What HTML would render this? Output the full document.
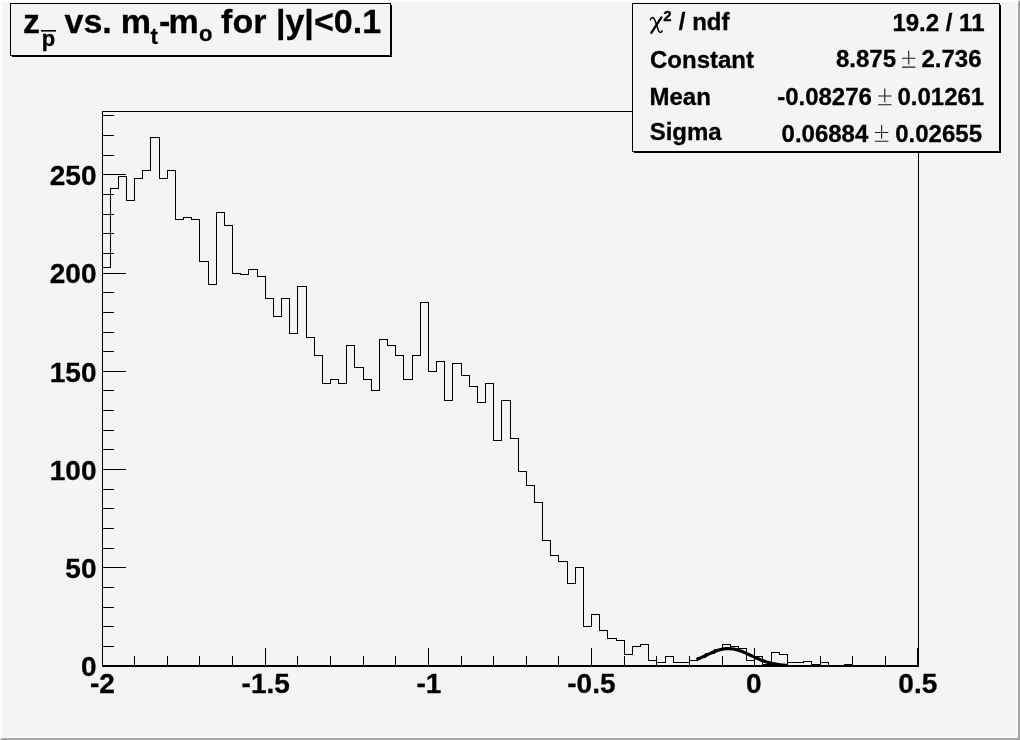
<!DOCTYPE html>
<html><head><meta charset="utf-8"><title>z pbar vs mt-mo</title>
<style>
html,body{margin:0;padding:0;background:#f4f4f4;}
body{width:1020px;height:740px;overflow:hidden;position:relative;font-family:"Liberation Sans",sans-serif;}
svg{will-change:transform;position:absolute;left:0;top:0;display:block}
text{font-family:"Liberation Sans",sans-serif;font-weight:bold;fill:#000;stroke:#000;stroke-width:0.3px}
</style></head><body>
<svg width="1020" height="740" viewBox="0 0 1020 740">
<rect x="0" y="0" width="1020" height="740" fill="#f4f4f4"/>
<!-- canvas bevel -->
<rect x="0" y="0" width="1020" height="2" fill="#fdfdfd"/>
<rect x="0" y="0" width="2" height="740" fill="#fdfdfd"/>
<rect x="2" y="737" width="1016" height="1" fill="#fcfcfc"/>
<rect x="1017" y="2" width="1" height="736" fill="#fcfcfc"/>
<path d="M1020 0V740H0L2 738H1018V2Z" fill="#a3a3a3"/>
<!-- frame -->
<g shape-rendering="crispEdges" stroke="#000" stroke-width="1" fill="none">
<path d="M102.5 666V111.5H918.5V666"/>
<path d="M102 665.5H919" />
<path d="M102 666.5H919" />
<g id="xt"><path d="M102.5 665V648"/>
<path d="M134.5 665V656"/>
<path d="M167.5 665V656"/>
<path d="M199.5 665V656"/>
<path d="M232.5 665V656"/>
<path d="M265.5 665V648"/>
<path d="M297.5 665V656"/>
<path d="M330.5 665V656"/>
<path d="M363.5 665V656"/>
<path d="M395.5 665V656"/>
<path d="M428.5 665V648"/>
<path d="M461.5 665V656"/>
<path d="M493.5 665V656"/>
<path d="M526.5 665V656"/>
<path d="M558.5 665V656"/>
<path d="M591.5 665V648"/>
<path d="M624.5 665V656"/>
<path d="M656.5 665V656"/>
<path d="M689.5 665V656"/>
<path d="M722.5 665V656"/>
<path d="M754.5 665V648"/>
<path d="M787.5 665V656"/>
<path d="M820.5 665V656"/>
<path d="M852.5 665V656"/>
<path d="M885.5 665V656"/>
<path d="M918.5 665V648"/><path d="M917.5 665V648"/></g>
<g id="yt"><path d="M102 666.5H126"/>
<path d="M102 646.5H114"/>
<path d="M102 626.5H114"/>
<path d="M102 607.5H114"/>
<path d="M102 587.5H114"/>
<path d="M102 567.5H126"/>
<path d="M102 548.5H114"/>
<path d="M102 528.5H114"/>
<path d="M102 508.5H114"/>
<path d="M102 489.5H114"/>
<path d="M102 469.5H126"/>
<path d="M102 449.5H114"/>
<path d="M102 430.5H114"/>
<path d="M102 410.5H114"/>
<path d="M102 390.5H114"/>
<path d="M102 371.5H126"/>
<path d="M102 351.5H114"/>
<path d="M102 332.5H114"/>
<path d="M102 312.5H114"/>
<path d="M102 292.5H114"/>
<path d="M102 273.5H126"/>
<path d="M102 253.5H114"/>
<path d="M102 233.5H114"/>
<path d="M102 214.5H114"/>
<path d="M102 194.5H114"/>
<path d="M102 174.5H126"/>
<path d="M102 155.5H114"/>
<path d="M102 135.5H114"/>
<path d="M102 115.5H114"/></g>
<path d="M102.5 666.5 V267.5 H110.5 V188.5 H118.5 V176.5 H126.5 V200.5 H134.5 V178.5 H142.5 V170.5 H150.5 V137.5 H159.5 V178.5 H167.5 V170.5 H175.5 V219.5 H183.5 V217.5 H191.5 V219.5 H199.5 V261.5 H208.5 V284.5 H216.5 V212.5 H224.5 V225.5 H232.5 V273.5 H240.5 V274.5 H248.5 V269.5 H257.5 V276.5 H265.5 V298.5 H273.5 V316.5 H281.5 V298.5 H289.5 V333.5 H297.5 V286.5 H306.5 V337.5 H314.5 V355.5 H322.5 V383.5 H330.5 V379.5 H338.5 V383.5 H346.5 V345.5 H354.5 V367.5 H363.5 V379.5 H371.5 V390.5 H379.5 V339.5 H387.5 V345.5 H395.5 V355.5 H403.5 V379.5 H412.5 V355.5 H420.5 V302.5 H428.5 V371.5 H436.5 V361.5 H444.5 V400.5 H452.5 V363.5 H461.5 V375.5 H469.5 V386.5 H477.5 V402.5 H485.5 V383.5 H493.5 V440.5 H501.5 V400.5 H510.5 V438.5 H518.5 V471.5 H526.5 V485.5 H534.5 V502.5 H542.5 V540.5 H550.5 V555.5 H558.5 V561.5 H567.5 V583.5 H575.5 V567.5 H583.5 V626.5 H591.5 V614.5 H599.5 V630.5 H607.5 V638.5 H616.5 V640.5 H624.5 V654.5 H632.5 V646.5 H640.5 V644.5 H648.5 V660.5 H656.5 V662.5 H665.5 V656.5 H673.5 V662.5 H681.5 V662.5 H689.5 V660.5 H697.5 V657.5 H705.5 V653.5 H714.5 V649.5 H722.5 V644.5 H730.5 V646.5 H738.5 V648.5 H746.5 V660.5 H754.5 V656.5 H762.5 V664.5 H771.5 V652.5 H779.5 V654.5 H787.5 V662.5 H795.5 V662.5 H803.5 V661.5 H811.5 V664.5 H820.5 V662.5 H828.5 V666.5 H836.5 V666.5 H844.5 V664.5 H852.5 V666.5 H860.5 V666.5 H869.5 V666.5 H877.5 V666.5 H885.5 V666.5 H893.5 V666.5 H901.5 V666.5 H909.5 V666.5 H918.5 V666.5"/>
</g>
<polyline points="696.5,659.6 698.1,658.9 699.6,658.3 701.1,657.6 702.6,656.9 704.2,656.2 705.7,655.5 707.2,654.8 708.7,654.1 710.3,653.4 711.8,652.7 713.3,652.0 714.8,651.4 716.3,650.9 717.9,650.3 719.4,649.9 720.9,649.5 722.4,649.1 724.0,648.9 725.5,648.7 727.0,648.6 728.5,648.6 730.1,648.6 731.6,648.8 733.1,649.0 734.6,649.2 736.2,649.6 737.7,650.0 739.2,650.5 740.7,651.0 742.2,651.6 743.8,652.2 745.3,652.9 746.8,653.6 748.3,654.3 749.9,655.0 751.4,655.7 752.9,656.4 754.4,657.1 756.0,657.8 757.5,658.5 759.0,659.1 760.5,659.8 762.0,660.4 763.6,660.9 765.1,661.4 766.6,661.9 768.1,662.4 769.7,662.8 771.2,663.2 772.7,663.5 774.2,663.8 775.8,664.1 777.3,664.4 778.8,664.6 780.3,664.8 781.8,665.0 783.4,665.1 784.9,665.3 786.4,665.4 787.9,665.5" fill="none" stroke="#000" stroke-width="3.2" stroke-linejoin="round" stroke-linecap="butt"/>
<g font-size="28">
<text x="96.5" y="676.2" text-anchor="end">0</text>
<text x="96.5" y="578.0" text-anchor="end">50</text>
<text x="96.5" y="479.8" text-anchor="end">100</text>
<text x="96.5" y="381.5" text-anchor="end">150</text>
<text x="96.5" y="283.3" text-anchor="end">200</text>
<text x="96.5" y="185.1" text-anchor="end">250</text>

<text x="102.5" y="692.5" text-anchor="middle">-2</text>
<text x="265.7" y="692.5" text-anchor="middle">-1.5</text>
<text x="428.9" y="692.5" text-anchor="middle">-1</text>
<text x="591.4" y="692.5" text-anchor="middle">-0.5</text>
<text x="753.8" y="692.5" text-anchor="middle">0</text>
<text x="917.8" y="692.5" text-anchor="middle">0.5</text>

</g>
<!-- title box -->
<g shape-rendering="crispEdges">
<rect x="12" y="5" width="380" height="52" fill="#000"/>
<rect x="10.5" y="3.5" width="380" height="52" fill="#f4f4f4" stroke="#000" stroke-width="1"/>
</g>
<g font-size="34"><text id="tc0" x="23.00" y="33.00" font-size="34">z</text><text id="tc1" x="41.80" y="45.50" font-size="22">p</text><text id="tc2" x="64.50" y="33.00" font-size="34">vs.</text><text id="tc3" x="120.80" y="33.00" font-size="34">m</text><text id="tc4" x="150.50" y="44.00" font-size="22">t</text><text id="tc5" x="159.00" y="33.00" font-size="34">-</text><text id="tc6" x="168.60" y="33.00" font-size="34">m</text><text id="tc7" x="199.00" y="41.30" font-size="22">o</text><text id="tc8" x="221.10" y="33.00" font-size="34">for</text><text id="tc9" x="275.90" y="33.00" font-size="34">|y|</text><text id="tc10" x="314.00" y="33.00" font-size="34">&lt;0.1</text></g>
<rect x="41" y="30" width="15" height="1.6" fill="#000"/>
<!-- stats box -->
<g shape-rendering="crispEdges">
<rect x="634" y="5" width="367" height="148" fill="#000"/>
<rect x="632.5" y="3.5" width="367" height="148" fill="#f4f4f4" stroke="#000" stroke-width="1"/>
</g>
<g font-size="24">
<text x="663.3" y="21.4" font-size="15">2</text><text x="678.8" y="29.5">/ ndf</text>
<g fill="none" stroke="#000" stroke-linecap="round" stroke-linejoin="round"><path d="M661.4 17.4L651.3 32.8" stroke-width="2.3"/><path d="M650.4 19.9C650.6 18.2 652 17.3 653.1 17.7C654.3 18.2 654.8 19.8 655.5 21.8L658.3 30C658.9 31.8 659.8 32.7 660.7 32.4C661.4 32.1 661.8 31.6 662.1 30.9" stroke-width="1.5"/></g>
<text x="650.00" y="67.5">Constant</text>
<text x="649.50" y="104.7">Mean</text>
<text x="649.70" y="139.8">Sigma</text>
<text x="984.50" y="30.6" text-anchor="end">19.2 / 11</text>
<text x="896.00" y="67.3" text-anchor="end">8.875</text>
<text x="981.50" y="67.3" text-anchor="end">2.736</text>
<text x="871.90" y="105.0" text-anchor="end">-0.08276</text>
<text x="984.20" y="105.0" text-anchor="end">0.01261</text>
<text x="868.30" y="141.5" text-anchor="end">0.06884</text>
<text x="982.00" y="141.5" text-anchor="end">0.02655</text>
</g>
<g stroke="#1a1a1a" stroke-width="1.1" fill="none">
<path d="M902.0 58.3H915.4M902.0 67.1H915.4M908.7 50.8V64.5"/>
<path d="M878.1 96.0H891.5M878.1 104.8H891.5M884.8 88.5V102.2"/>
<path d="M874.9 132.5H888.3M874.9 141.3H888.3M881.6 125.0V138.7"/>
</g>
</svg>
</body></html>
